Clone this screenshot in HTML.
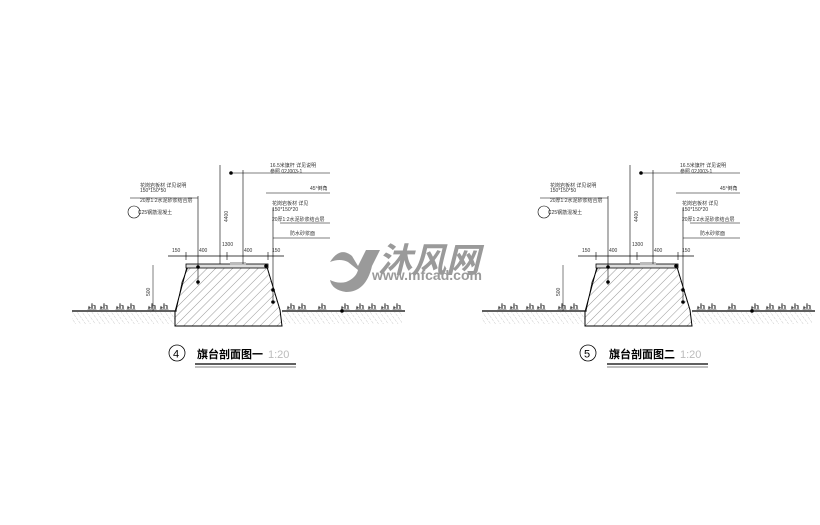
<!DOCTYPE html>
<html><head><meta charset="utf-8"><style>
html,body{margin:0;padding:0;background:#fff;}
svg{display:block;}
text{font-family:"Liberation Sans","Noto Sans CJK SC",sans-serif;}
</style></head><body>
<svg width="820" height="525" viewBox="0 0 820 525" xmlns="http://www.w3.org/2000/svg">
<defs>
<pattern id="h1" width="6" height="6" patternUnits="userSpaceOnUse" patternTransform="rotate(45)">
<line x1="0" y1="0" x2="0" y2="6" stroke="#555" stroke-width="0.6"/></pattern>
<pattern id="soil" width="4" height="4" patternUnits="userSpaceOnUse" patternTransform="rotate(-35)">
<line x1="0" y1="0" x2="0" y2="3" stroke="#999" stroke-width="0.5"/></pattern>
<g id="tuft"><path d="M-4 0l1-4 1 4M-1 0l1-7 1 7M2 0l1-5 1 5M-3 -3l2 1M1 -5l2 1" stroke="#333" stroke-width="0.6" fill="none"/></g>
<g id="sec">
<line x1="72" y1="311" x2="175" y2="311" stroke="#000" stroke-width="1.2"/>
<line x1="282" y1="311" x2="405" y2="311" stroke="#000" stroke-width="1.2"/>
<rect x="72" y="312" width="103" height="12" fill="url(#soil)"/>
<rect x="282" y="312" width="120" height="12" fill="url(#soil)"/>
<use href="#tuft" x="92" y="310"/><use href="#tuft" x="104" y="310"/><use href="#tuft" x="120" y="310"/><use href="#tuft" x="131" y="310"/><use href="#tuft" x="152" y="310"/><use href="#tuft" x="164" y="310"/>
<use href="#tuft" x="291" y="310"/><use href="#tuft" x="302" y="310"/><use href="#tuft" x="322" y="310"/><use href="#tuft" x="345" y="310"/><use href="#tuft" x="360" y="310"/><use href="#tuft" x="372" y="310"/><use href="#tuft" x="385" y="310"/><use href="#tuft" x="397" y="310"/>
<path d="M187 267 L267 267 L280 310 L282 326 L175 326 L175 312 Z" fill="url(#h1)" stroke="#000" stroke-width="1"/>
<path d="M188 267 L182 282 L176 312" fill="none" stroke="#000" stroke-width="0.6"/>
<rect x="186" y="264" width="82" height="4" fill="#ddd" stroke="#000" stroke-width="0.8"/>
<rect x="230" y="262" width="16" height="3" fill="#bbb"/>
<line x1="168" y1="256" x2="284" y2="256" stroke="#000" stroke-width="0.8"/>
<g stroke="#000" stroke-width="0.6"><line x1="186" y1="252" x2="186" y2="260"/><line x1="227" y1="252" x2="227" y2="260"/><line x1="268" y1="252" x2="268" y2="260"/></g>
<g font-size="5" fill="#333"><text x="172" y="252">150</text><text x="199" y="252">400</text><text x="222" y="246">1300</text><text x="244" y="252">400</text><text x="272" y="252">150</text></g>
<line x1="153" y1="265" x2="153" y2="311" stroke="#000" stroke-width="0.5"/>
<text x="150" y="296" font-size="5" fill="#333" transform="rotate(-90 150 296)">500</text>
<g stroke="#000" stroke-width="0.6" fill="none">
<line x1="198" y1="196" x2="198" y2="285"/>
<line x1="130" y1="198" x2="198" y2="198"/>
<line x1="220" y1="165" x2="220" y2="264"/>
<line x1="243" y1="170" x2="243" y2="264"/>
<line x1="231" y1="173" x2="330" y2="173"/>
<line x1="266" y1="193" x2="330" y2="193"/>
<line x1="273" y1="208" x2="273" y2="300"/>
<line x1="273" y1="238" x2="330" y2="238"/>
<line x1="280" y1="223" x2="330" y2="223"/>
</g>
<g fill="#000"><circle cx="231" cy="173" r="1.8"/><circle cx="198" cy="267" r="1.8"/><circle cx="198" cy="282" r="1.8"/><circle cx="266" cy="266" r="1.8"/><circle cx="273" cy="290" r="1.8"/><circle cx="273" cy="302" r="1.8"/><circle cx="342" cy="311" r="1.8"/></g>
<g font-size="5" fill="#333">
<text x="140" y="187">花岗岩板材 详见说明</text><text x="140" y="192">150*150*50</text><text x="140" y="202">20厚1:2水泥砂浆结合层</text>
<text x="138" y="214">C25钢筋混凝土</text>
<text x="270" y="167">16.5米旗杆 详见说明</text><text x="270" y="173">参照 02J003-1</text>
<text x="310" y="190">45°倒角</text>
<text x="272" y="205">花岗岩板材 详见</text><text x="272" y="211">150*150*20</text><text x="272" y="221">20厚1:2水泥砂浆结合层</text><text x="290" y="235">防水砂浆面</text>
<text x="228" y="222" transform="rotate(-90 228 222)">4400</text>
</g>
<circle cx="134" cy="212" r="6" fill="none" stroke="#000" stroke-width="0.6"/>
</g>
</defs>
<use href="#sec"/>
<use href="#sec" transform="translate(410,0)"/>
<circle cx="177" cy="353" r="8" fill="none" stroke="#000" stroke-width="0.8"/>
<text x="173" y="357.5" font-size="11">4</text>
<text x="197" y="358" font-size="11" font-weight="bold" fill="#000">旗台剖面图一</text>
<text x="268" y="358" font-size="11" fill="#bbb">1:20</text>
<line x1="195" y1="364" x2="296" y2="364" stroke="#000" stroke-width="1.2"/>
<line x1="195" y1="367" x2="296" y2="367" stroke="#000" stroke-width="0.6"/>
<circle cx="588" cy="353" r="8" fill="none" stroke="#000" stroke-width="0.8"/>
<text x="584" y="357.5" font-size="11">5</text>
<text x="609" y="358" font-size="11" font-weight="bold" fill="#000">旗台剖面图二</text>
<text x="680" y="358" font-size="11" fill="#bbb">1:20</text>
<line x1="607" y1="364" x2="708" y2="364" stroke="#000" stroke-width="1.2"/>
<line x1="607" y1="367" x2="708" y2="367" stroke="#000" stroke-width="0.6"/>
<g fill="#9a9a9a">
<path d="M330 262 Q340 246 352 256 L358 266 L366 250 L380 250 L372 266 Q366 292 346 292 Q332 290 330 280 Q338 284 346 282 Q356 278 358 270 L348 262 Q340 258 330 262Z"/>
<text x="378" y="272" font-size="34" font-weight="bold" font-style="italic">沐风网</text>
<text x="372" y="280" font-size="14" font-weight="bold">www.mfcad.com</text>
</g>
</svg>
</body></html>
